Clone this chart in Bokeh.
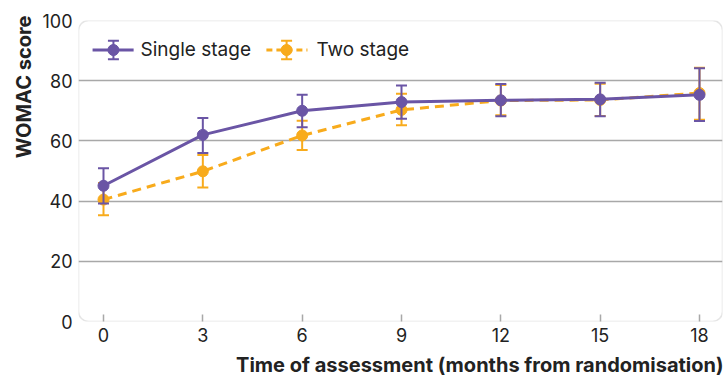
from bokeh.plotting import figure
from bokeh.models import BoxAnnotation, FixedTicker, Range1d, Title
from bokeh.core.properties import value
from bokeh.embed import file_html
from bokeh.resources import INLINE

# ---- data ----
months = [0, 3, 6, 9, 12, 15, 18]
single_mean = [45.1, 62.0, 70.0, 72.9, 73.5, 73.8, 75.3]
single_low = [39.2, 56.0, 64.5, 67.4, 68.2, 68.2, 66.6]
single_high = [50.9, 67.6, 75.3, 78.4, 78.9, 79.3, 84.1]
two_mean = [40.5, 49.9, 61.8, 70.3, 73.4, 73.6, 75.9]
two_low = [35.3, 44.5, 57.0, 65.2, 68.5, 68.3, 67.0]
two_high = [46.0, 55.3, 66.7, 75.7, 78.6, 79.0, 84.3]
y_ticks = [0, 20, 40, 60, 80, 100]
x_ticks = [0, 3, 6, 9, 12, 15, 18]
series_names = ["Single stage", "Two stage"]
x_title = "Time of assessment (months from randomisation)"
y_title = "WOMAC score"

PURPLE = "#6a55a5"
ORANGE = "#f8ab1c"
GRID = "#a8a8a8"
TEXT = "#222222"
FONT = "Inter"

p = figure(width=727, height=382, output_backend="svg", toolbar_location=None,
           x_range=Range1d(-0.755, 18.695), y_range=Range1d(0, 100),
           min_border_left=78, min_border_top=20, min_border_right=5, min_border_bottom=57)
p.outline_line_color = None
p.background_fill_color = "white"
p.border_fill_color = "white"

# rounded frame
frame = BoxAnnotation(fill_alpha=0, line_color=GRID, line_width=1.5, border_radius=10, level="underlay")
p.add_layout(frame)

# axes
p.xaxis.ticker = FixedTicker(ticks=x_ticks)
p.yaxis.ticker = FixedTicker(ticks=y_ticks)
p.xgrid.visible = False
p.ygrid.ticker = FixedTicker(ticks=[20, 40, 60, 80])
p.ygrid.grid_line_color = GRID
p.ygrid.grid_line_width = 1.5

for ax in (p.xaxis[0], p.yaxis[0]):
    ax.axis_line_color = None
    ax.major_label_text_font = FONT
    ax.major_label_text_font_size = "18px"
    ax.major_label_text_color = TEXT
    ax.minor_tick_line_color = None

p.xaxis.major_tick_in = 7
p.xaxis.major_tick_out = 0
p.xaxis.major_tick_line_color = GRID
p.xaxis.major_tick_line_width = 1.5
p.xaxis.major_label_standoff = 6

p.yaxis.major_tick_in = 0
p.yaxis.major_tick_out = 0
p.yaxis.major_label_standoff = 6

# axis titles, aligned to the right / top ends as in the original
xt = Title(text=x_title, align="right", text_font=FONT, text_font_style="bold",
           text_font_size="20px", text_color=TEXT, standoff=12, offset=-1)
yt = Title(text=y_title, align="right", text_font=FONT, text_font_style="bold",
           text_font_size="20px", text_color=TEXT, standoff=8, offset=-5)
p.add_layout(xt, "below")
p.add_layout(yt, "left")

def draw_series(mean, low, high, color, dash):
    p.segment(x0=months, y0=low, x1=months, y1=high, line_color=color, line_width=2)
    p.scatter(months, low, marker="dash", size=11, line_color=color, line_width=2)
    p.scatter(months, high, marker="dash", size=11, line_color=color, line_width=2)
    p.line(months, mean, line_color=color, line_width=3, line_dash=dash)
    p.scatter(months, mean, marker="circle", size=11, fill_color=color, line_color=color)

draw_series(two_mean, two_low, two_high, ORANGE, "9 6")
draw_series(single_mean, single_low, single_high, PURPLE, "solid")

# manual legend (positions in data units, top-left of the frame)
leg_y = 90.2
leg_items = [
    (series_names[0], PURPLE, "solid", -0.33, 0.91, 0.30, 1.12),
    (series_names[1], ORANGE, "6 4", 4.92, 6.16, 5.53, 6.43),
]
for name, color, dash, xa, xb, xc, xtx in leg_items:
    p.line([xa, xb], [leg_y, leg_y], line_color=color, line_width=3, line_dash=dash)
    p.segment(x0=[xc], y0=[leg_y - 3.1], x1=[xc], y1=[leg_y + 3.1], line_color=color, line_width=2)
    p.scatter([xc, xc], [leg_y - 3.1, leg_y + 3.1], marker="dash", size=11, line_color=color, line_width=2)
    p.scatter([xc], [leg_y], marker="circle", size=11, fill_color=color, line_color=color)
    p.text(x=[xtx], y=[leg_y], text=[name], text_font=value(FONT), text_font_size="19px",
           text_color=TEXT, text_baseline="middle", text_align="left")

open("out.html", "w").write(file_html(p, INLINE))
